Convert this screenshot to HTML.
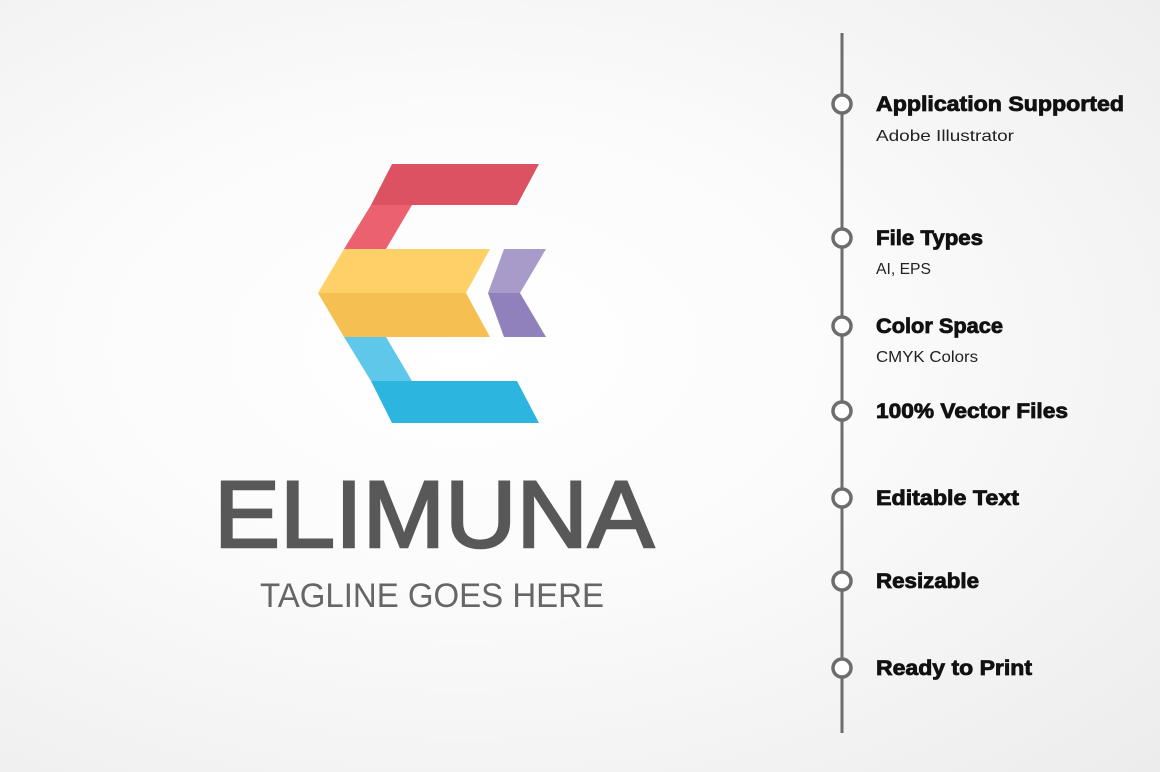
<!DOCTYPE html>
<html><head><style>
html,body{margin:0;padding:0}
body{width:1160px;height:772px;overflow:hidden;background:radial-gradient(ellipse at 40% 45%,#ffffff 0%,#fbfbfb 40%,#ececec 100%);font-family:"Liberation Sans",sans-serif;position:relative}
</style></head><body>
<svg width="1160" height="772" style="position:absolute;left:0;top:0" font-family="Liberation Sans,sans-serif">
<polygon points="392,164 539,164 517,205 371,205" fill="#dc5263"/>
<polygon points="371,205 412,205 386,249 344,249" fill="#ec6170"/>
<polygon points="344,249 490,249 466,293 318,293" fill="#fdd068"/>
<polygon points="318,293 466,293 490,337 344,337" fill="#f6bf52"/>
<polygon points="504,249 546,249 520,293 488,293" fill="#a99bc9"/>
<polygon points="488,293 520,293 546,337 504,337" fill="#9080bb"/>
<polygon points="344,337 386,337 412,381 371,381" fill="#5ec7ea"/>
<polygon points="371,381 517,381 539,423 392,423" fill="#2cb5de"/>
<text x="434" y="547" text-anchor="middle" font-size="95" fill="#585858" stroke="#585858" stroke-width="2.5" textLength="440" lengthAdjust="spacingAndGlyphs">ELIMUNA</text>
<text x="432" y="607" text-anchor="middle" font-size="34" fill="#666" textLength="344" lengthAdjust="spacingAndGlyphs">TAGLINE GOES HERE</text>
<line x1="842" y1="33" x2="842" y2="733" stroke="#6d6d6d" stroke-width="3"/>
<g fill="#fff" stroke="#6d6d6d" stroke-width="3.5">
<circle cx="842" cy="104" r="9"/><circle cx="842" cy="238" r="9"/><circle cx="842" cy="326" r="9"/><circle cx="842" cy="411" r="9"/><circle cx="842" cy="498" r="9"/><circle cx="842" cy="581" r="9"/><circle cx="842" cy="668" r="9"/>
</g>
<g font-weight="bold" font-size="21" fill="#111" stroke="#111" stroke-width="0.8" lengthAdjust="spacingAndGlyphs">
<text x="876" y="111" textLength="248" lengthAdjust="spacingAndGlyphs">Application Supported</text>
<text x="876" y="245" textLength="107" lengthAdjust="spacingAndGlyphs">File Types</text>
<text x="876" y="333" textLength="127" lengthAdjust="spacingAndGlyphs">Color Space</text>
<text x="876" y="418" textLength="192" lengthAdjust="spacingAndGlyphs">100% Vector Files</text>
<text x="876" y="505" textLength="143" lengthAdjust="spacingAndGlyphs">Editable Text</text>
<text x="876" y="588" textLength="103" lengthAdjust="spacingAndGlyphs">Resizable</text>
<text x="876" y="675" textLength="156" lengthAdjust="spacingAndGlyphs">Ready to Print</text>
</g>
<g font-size="16" fill="#222">
<text x="876" y="141" textLength="138" lengthAdjust="spacingAndGlyphs">Adobe Illustrator</text>
<text x="876" y="274" textLength="55" lengthAdjust="spacingAndGlyphs">AI, EPS</text>
<text x="876" y="362" textLength="102" lengthAdjust="spacingAndGlyphs">CMYK Colors</text>
</g>
</svg>
</body></html>
